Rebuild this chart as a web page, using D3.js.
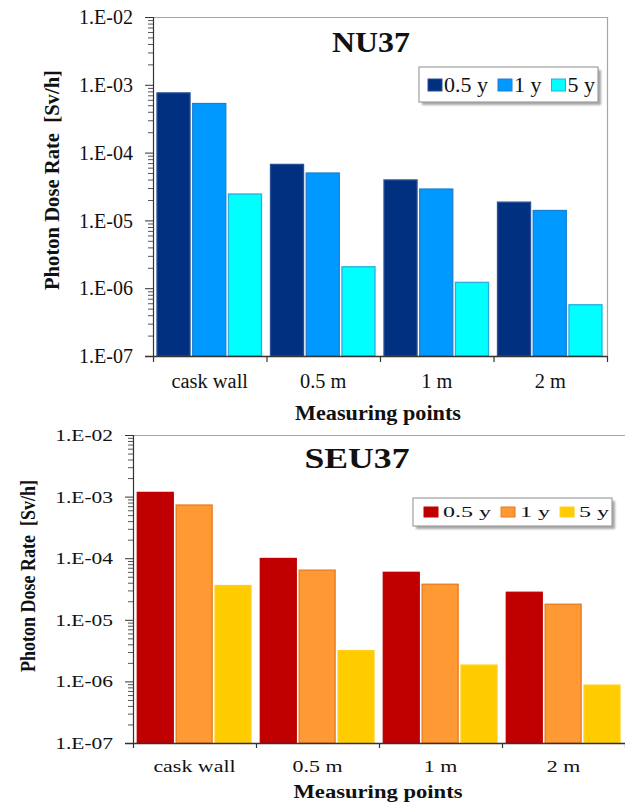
<!DOCTYPE html>
<html>
<head>
<meta charset="utf-8">
<script src="https://cdn.jsdelivr.net/npm/d3@7"></script>
<style>
  html, body { margin: 0; padding: 0; background: #fff; }
  svg { display: block; }
  text { font-family: "Liberation Serif", "Times New Roman", serif; fill: #111; }
</style>
</head>
<body>
<script>
// ---------------- DATA ----------------
const categories = ["cask wall", "0.5 m", "1 m", "2 m"];
const seriesNames = ["0.5 y", "1 y", "5 y"];
const yTickValues = [1e-2, 1e-3, 1e-4, 1e-5, 1e-6, 1e-7];
const yTickLabels = ["1.E-02", "1.E-03", "1.E-04", "1.E-05", "1.E-06", "1.E-07"];

const nu37_05y = [7.6e-4, 6.7e-5, 3.95e-5, 1.86e-5];
const nu37_1y  = [5.3e-4, 5.0e-5, 2.9e-5, 1.4e-5];
const nu37_5y  = [2.45e-5, 2.07e-6, 1.22e-6, 5.7e-7];

const seu37_05y = [1.17e-3, 9.9e-5, 5.9e-5, 2.8e-5];
const seu37_1y  = [7.3e-4, 6.4e-5, 3.78e-5, 1.79e-5];
const seu37_5y  = [3.6e-5, 3.16e-6, 1.84e-6, 8.7e-7];

const yTitle = "Photon Dose Rate  [Sv/h]";
const xTitle = "Measuring points";

// ---------------- SETUP ----------------
const W = 625, H = 803;
const svg = d3.select("body").append("svg").attr("width", W).attr("height", H);
const defs = svg.append("defs");
defs.append("filter").attr("id", "blur").append("feGaussianBlur").attr("stdDeviation", 1.2);

// stretch horizontally by factor sx; returns resulting width
function stretch(sel, sx) {
  let last = 0;
  sel.each(function () {
    const w = this.getComputedTextLength();
    last = w * sx;
    this.setAttribute("textLength", last);
    this.setAttribute("lengthAdjust", "spacingAndGlyphs");
  });
  return last;
}
function fitLen(sel, len) {
  sel.attr("textLength", len).attr("lengthAdjust", "spacingAndGlyphs");
}

function drawChart(cfg) {
  const g = svg.append("g");
  const series = [cfg.s0, cfg.s1, cfg.s2];
  const y = d3.scaleLog().domain([1e-7, 1e-2]).range([cfg.y1, cfg.y0]);
  const x = d3.scaleBand().domain(categories).range([cfg.x0, cfg.x1]).padding(0);
  const step = x.step();
  const xi = d3.scaleBand().domain(seriesNames)
    .range([cfg.padL, step - cfg.padR]).paddingInner(0.075).paddingOuter(0);

  // borders (top & right, grey)
  g.append("line").attr("x1", cfg.x0).attr("x2", cfg.borderRight)
    .attr("y1", cfg.y0 + 0.5).attr("y2", cfg.y0 + 0.5)
    .attr("stroke", "#a6a6a6").attr("stroke-width", 1.2);
  if (cfg.drawRight) {
    g.append("line").attr("x1", cfg.x1 + 0.5).attr("x2", cfg.x1 + 0.5)
      .attr("y1", cfg.y0).attr("y2", cfg.y1)
      .attr("stroke", "#a6a6a6").attr("stroke-width", 1.2);
  }

  // bars
  series.forEach((vals, si) => {
    g.append("g").selectAll("rect").data(vals).join("rect")
      .attr("x", (d, i) => x(categories[i]) + xi(seriesNames[si]))
      .attr("y", d => y(d))
      .attr("width", xi.bandwidth())
      .attr("height", d => cfg.y1 - y(d))
      .attr("fill", cfg.colors[si])
      .attr("stroke", cfg.strokes[si])
      .attr("stroke-width", 1.3);
  });

  // minor y ticks
  const minors = [];
  for (let e = -7; e < -2; e++) for (let m = 2; m <= 9; m++) minors.push(m * Math.pow(10, e));
  const minorAx = g.append("g").attr("transform", `translate(${cfg.x0},0)`)
    .call(d3.axisLeft(y).tickValues(minors).tickSize(5).tickFormat(""));
  minorAx.select(".domain").remove();
  minorAx.selectAll("line").attr("stroke", "#555");

  // major y axis
  const yAx = g.append("g").attr("transform", `translate(${cfg.x0},0)`)
    .call(d3.axisLeft(y).tickValues(yTickValues).tickSize(8).tickPadding(cfg.yPad)
      .tickFormat((d, i) => yTickLabels[i]));
  yAx.attr("font-family", null);
  yAx.select(".domain").attr("stroke", "#333").attr("stroke-width", 1.2);
  yAx.selectAll("line").attr("stroke", "#333");
  const yl = yAx.selectAll("text").attr("font-size", cfg.yFont)
    .attr("fill", "#111").attr("dy", "0.33em");
  stretch(yl, cfg.ySx);

  // x axis: boundary ticks
  const xb = d3.scaleLinear().domain([0, categories.length]).range([cfg.x0, cfg.x1]);
  const xAx = g.append("g").attr("transform", `translate(0,${cfg.y1})`)
    .call(d3.axisBottom(xb).tickValues(d3.range(categories.length + 1)).tickSize(cfg.xTick).tickFormat(""));
  xAx.select(".domain").attr("stroke", "#333").attr("stroke-width", 1.4)
    .attr("d", `M${cfg.x0 - 8},0.5H${cfg.x1}`);
  xAx.selectAll("line").attr("stroke", "#333").attr("stroke-width", 1.2);

  // x labels (category names)
  const xl = g.append("g").selectAll("text").data(categories).join("text")
    .attr("x", d => x(d) + step / 2)
    .attr("y", cfg.xLabelY)
    .attr("text-anchor", "middle")
    .attr("font-size", cfg.xFont)
    .text(d => d);
  stretch(xl, cfg.xSx);

  // x title
  const xt = g.append("text").attr("x", cfg.xTitleX).attr("y", cfg.xTitleY)
    .attr("text-anchor", "middle").attr("font-weight", "bold")
    .attr("font-size", cfg.xTitleFont).text(xTitle);
  fitLen(xt, cfg.xTitleLen);

  // y title
  const yt = g.append("text")
    .attr("transform", `translate(${cfg.yTitleX},${cfg.yTitleY}) rotate(-90)`)
    .attr("text-anchor", "middle").attr("font-weight", "bold")
    .attr("font-size", cfg.yTitleFont).attr("xml:space", "preserve").text(yTitle);
  fitLen(yt, cfg.yTitleLen);

  // chart title
  const tt = g.append("text").attr("x", cfg.titleX).attr("y", cfg.titleY)
    .attr("text-anchor", "middle").attr("font-weight", "bold")
    .attr("font-size", 30).text(cfg.title);
  fitLen(tt, cfg.titleLen);

  // legend
  const L = cfg.legend;
  g.append("rect").attr("x", L.x + 3).attr("y", L.y + 3).attr("width", L.w).attr("height", L.h)
    .attr("fill", "#777").attr("opacity", 0.65).attr("filter", "url(#blur)");
  g.append("rect").attr("x", L.x).attr("y", L.y).attr("width", L.w).attr("height", L.h)
    .attr("fill", "#fff").attr("stroke", "#a0a0a0").attr("stroke-width", 1.2);
  let cx = L.x + L.startPad;
  seriesNames.forEach((name, i) => {
    g.append("rect").attr("x", cx).attr("y", L.swY).attr("width", L.swW).attr("height", L.swH)
      .attr("fill", cfg.colors[i]).attr("stroke", cfg.strokes[i]).attr("stroke-width", 1);
    cx += L.swW + L.gapS;
    const t = g.append("text").attr("x", cx).attr("y", L.textY).attr("font-size", L.font).text(name);
    const w = stretch(t, L.sx);
    cx += w + L.gapI;
  });
}

drawChart({
  title: "NU37", titleX: 371, titleY: 52, titleLen: 78,
  s0: nu37_05y, s1: nu37_1y, s2: nu37_5y,
  colors: ["#00307f", "#0099ff", "#00ffff"],
  strokes: ["#2a4f96", "#1a7fd0", "#2aaee0"],
  x0: 153, x1: 607, y0: 17, y1: 356, borderRight: 607, drawRight: true,
  padL: 4, padR: 5,
  yFont: 20, ySx: 1.0, yPad: 12,
  xTick: 6, xFont: 20, xSx: 1.02, xLabelY: 388,
  xTitleX: 378, xTitleY: 420, xTitleFont: 20, xTitleLen: 166,
  yTitleX: 59, yTitleY: 180, yTitleFont: 20.5, yTitleLen: 220,
  legend: { x: 419, y: 67, w: 179, h: 35, startPad: 9, swW: 14, swH: 12, swY: 79,
            gapS: 2, gapI: 10, font: 20, sx: 1.1, textY: 92 }
});

drawChart({
  title: "SEU37", titleX: 357, titleY: 468, titleLen: 105,
  s0: seu37_05y, s1: seu37_1y, s2: seu37_5y,
  colors: ["#c00000", "#ff9933", "#ffcc00"],
  strokes: ["#c00000", "#ea7a1f", "#ffcf20"],
  x0: 133, x1: 625, y0: 435, y1: 743, borderRight: 625, drawRight: false,
  padL: 4.3, padR: 5,
  yFont: 16.5, ySx: 1.3, yPad: 12,
  xTick: 5, xFont: 17, xSx: 1.29, xLabelY: 772,
  xTitleX: 378, xTitleY: 798, xTitleFont: 19, xTitleLen: 169,
  yTitleX: 35, yTitleY: 576, yTitleFont: 20.5, yTitleLen: 192,
  legend: { x: 413, y: 498, w: 199, h: 28, startPad: 11, swW: 14, swH: 10, swY: 507,
            gapS: 5, gapI: 10, font: 15.5, sx: 1.55, textY: 517 }
});
</script>
</body>
</html>
